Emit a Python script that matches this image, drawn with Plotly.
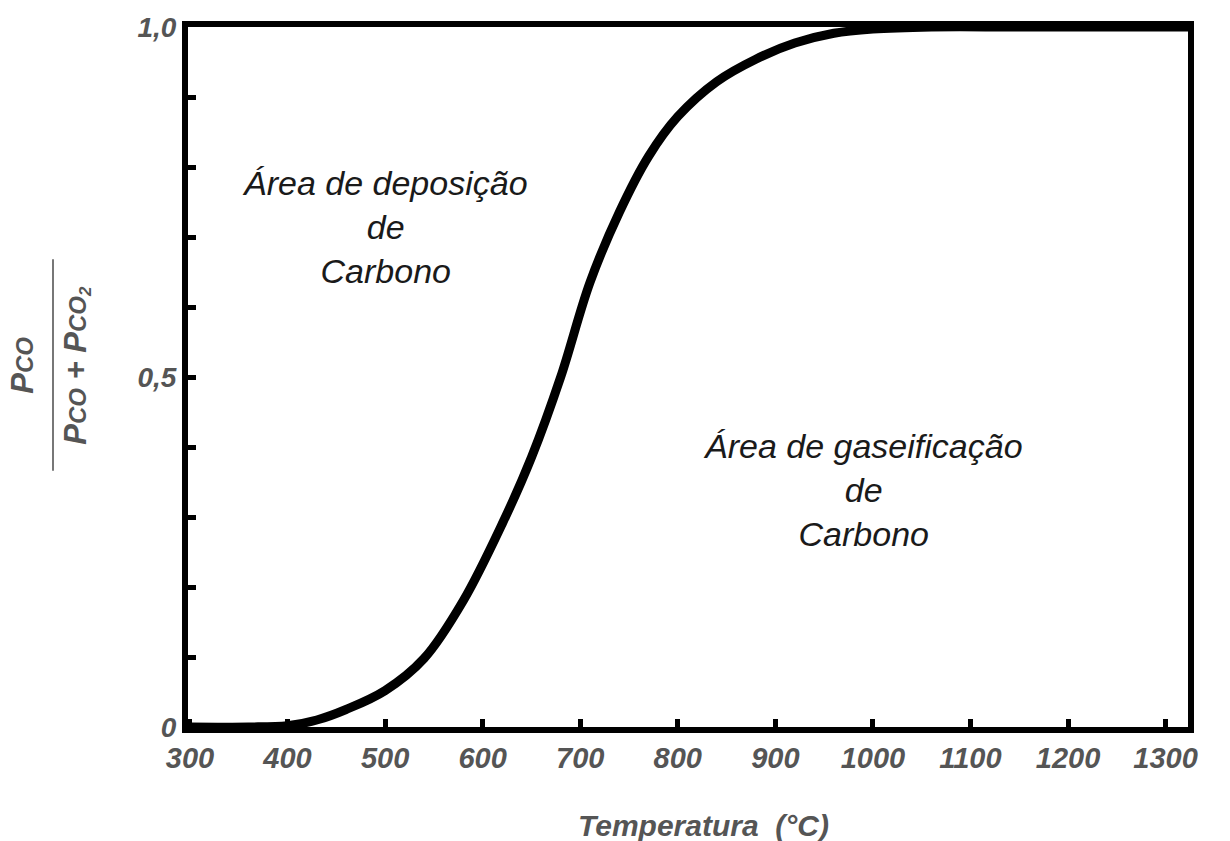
import plotly.graph_objects as go

# Curve data (temperature in °C, ratio Pco/(Pco+Pco2))
temperature = [300, 360, 400, 430, 460, 500, 540, 580, 620, 650, 680, 710, 740,
               770, 800, 840, 880, 920, 960, 1000, 1060, 1150, 1323]
ratio = [0.0, 0.0, 0.002, 0.010, 0.025, 0.052, 0.098, 0.180, 0.290, 0.385, 0.500,
         0.635, 0.735, 0.815, 0.872, 0.922, 0.954, 0.977, 0.991, 0.997, 1.0, 1.0, 1.0]

x_tickvals = [300, 400, 500, 600, 700, 800, 900, 1000, 1100, 1200, 1300]
x_ticktext = ["300", "400", "500", "600", "700", "800", "900", "1000", "1100", "1200", "1300"]
y_tickvals = [0, 0.1, 0.2, 0.3, 0.4, 0.5, 0.6, 0.7, 0.8, 0.9, 1.0]
y_ticktext = ["0", " ", " ", " ", " ", "0,5", " ", " ", " ", " ", "1,0"]

region_labels = ["Área de deposição<br>de<br>Carbono", "Área de gaseificação<br>de<br>Carbono"]
region_x = [500, 990]
region_y = [0.715, 0.338]

FONT = "Liberation Sans, Arial, sans-serif"
GRAY = "#555555"

fig = go.Figure()
fig.add_trace(go.Scatter(
    x=temperature, y=ratio, mode="lines",
    line=dict(color="black", width=9, shape="spline", smoothing=1.0),
    hoverinfo="skip", showlegend=False, cliponaxis=True,
))

fig.update_xaxes(
    range=[298, 1323], tickmode="array", tickvals=x_tickvals, ticktext=x_ticktext,
    ticks="inside", ticklen=8, tickwidth=5, tickcolor="black",
    showline=True, linewidth=6, linecolor="black", mirror=True,
    showgrid=False, zeroline=False,
    tickfont=dict(family=FONT, size=29, color=GRAY, weight="bold", style="italic"),
)
fig.update_yaxes(
    range=[0, 1], tickmode="array", tickvals=y_tickvals, ticktext=y_ticktext,
    ticks="inside", ticklen=8, tickwidth=5, tickcolor="black",
    showline=True, linewidth=6, linecolor="black", mirror=True,
    showgrid=False, zeroline=False,
    tickfont=dict(family=FONT, size=28, color=GRAY, weight="bold", style="italic"),
)

for txt, xv, yv in zip(region_labels, region_x, region_y):
    fig.add_annotation(
        x=xv, y=yv, xref="x", yref="y", text=txt, showarrow=False,
        font=dict(family=FONT, size=34, color="#1a1a1a", style="italic"),
        align="center",
    )

# x-axis title
fig.add_annotation(
    x=0.515, y=-0.14, xref="paper", yref="paper", text="Temperatura  (°C)",
    showarrow=False, xanchor="center", yanchor="middle",
    font=dict(family=FONT, size=30, color=GRAY, weight="bold", style="italic"),
)

# y-axis title as a fraction
num = "P<span style='font-size:24px'>CO</span>"
den = ("P<span style='font-size:24px'>CO</span> + "
       "P<span style='font-size:24px'>CO<sub>2</sub></span>")
yfont = dict(family=FONT, size=31, color=GRAY, weight="bold", style="italic")
fig.add_annotation(x=-0.165, y=0.516, xref="paper", yref="paper", text=num,
                   showarrow=False, textangle=-90, font=yfont,
                   xanchor="center", yanchor="middle")
fig.add_annotation(x=-0.111, y=0.516, xref="paper", yref="paper", text=den,
                   showarrow=False, textangle=-90, font=yfont,
                   xanchor="center", yanchor="middle")
fig.add_shape(type="line", xref="paper", yref="paper",
              x0=-0.135, x1=-0.135, y0=(727 - 470) / 702, y1=(727 - 258) / 702,
              line=dict(color="#777777", width=2))

fig.update_layout(
    width=1230, height=841,
    margin=dict(l=188, r=42, t=25, b=114),
    paper_bgcolor="white", plot_bgcolor="white",
    showlegend=False,
)

fig.write_html("out.html")
